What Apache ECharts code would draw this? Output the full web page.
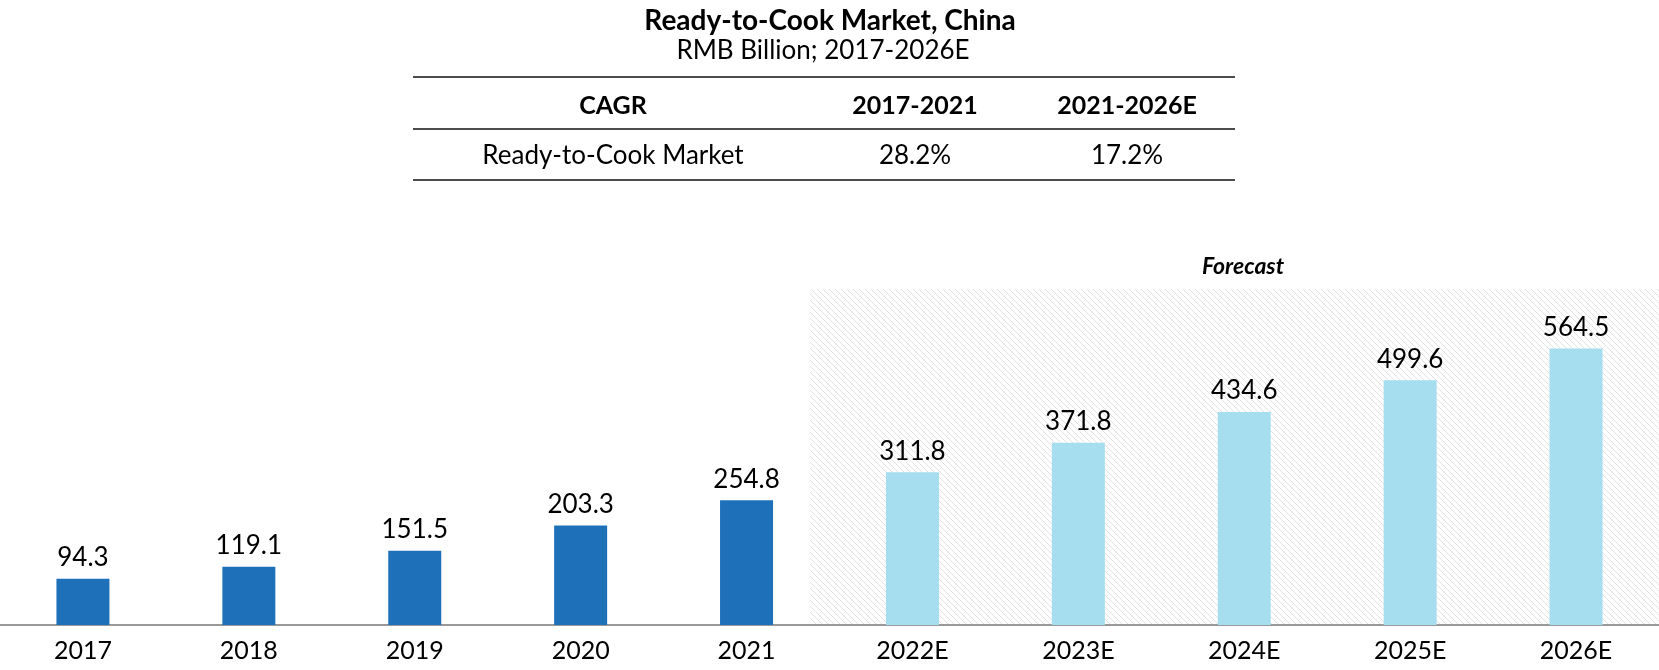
<!DOCTYPE html>
<html>
<head>
<meta charset="utf-8">
<script src="https://cdn.jsdelivr.net/npm/echarts@6/dist/echarts.min.js"></script>
<style>
html,body{margin:0;padding:0;background:#fff;}
#chart{width:1659px;height:670px;}
</style>
</head>
<body>
<div id="chart"></div>
<script>
// ---- data ----
const titleText = 'Ready-to-Cook Market, China';
const subtitleText = 'RMB Billion; 2017-2026E';
const categories = ['2017','2018','2019','2020','2021','2022E','2023E','2024E','2025E','2026E'];
const historicalValues = [94.3, 119.1, 151.5, 203.3, 254.8, null, null, null, null, null];
const forecastValues = [null, null, null, null, null, 311.8, 371.8, 434.6, 499.6, 564.5];
const cagrHeader = ['CAGR', '2017-2021', '2021-2026E'];
const cagrRow = ['Ready-to-Cook Market', '28.2%', '17.2%'];
const forecastLabel = 'Forecast';

// ---- styling ----
const FONT = 'Lato';
const DARK = '#1E70B8';
const LIGHT = '#A6DEF0';

// hatch pattern
function makeHatch() {
  const s = 6;
  const c = document.createElement('canvas');
  c.width = s; c.height = s;
  const g = c.getContext('2d');
  g.fillStyle = '#ffffff';
  g.fillRect(0, 0, s, s);
  g.strokeStyle = '#e2e2e2';
  g.lineWidth = 1;
  g.beginPath();
  g.moveTo(0, 0); g.lineTo(s, s);
  g.moveTo(-s/2, s/2); g.lineTo(s/2, s*1.5);
  g.moveTo(s/2, -s/2); g.lineTo(s*1.5, s/2);
  g.stroke();
  return c;
}

const chart = echarts.init(document.getElementById('chart'), null, {renderer: 'canvas'});

const colX = [613, 915, 1127];
const tableLeft = 413, tableRight = 1235;
const lineYs = [77, 129, 180];

const graphics = [];
// forecast hatched background
graphics.push({
  type: 'rect', z: -10, silent: true,
  shape: {x: 810, y: 289, width: 849, height: 336},
  style: {fill: {image: makeHatch(), repeat: 'repeat'}}
});
graphics.push({
  type: 'text', z: 5,
  x: 1243, y: 267,
  style: {text: forecastLabel, fontFamily: FONT, fontSize: 23, fontWeight: 'bold', fontStyle: 'italic',
          fill: '#000', textAlign: 'center', textVerticalAlign: 'middle'}
});
// table lines
lineYs.forEach(function (y) {
  graphics.push({
    type: 'line', silent: true,
    shape: {x1: tableLeft, y1: y, x2: tableRight, y2: y},
    style: {stroke: '#111', lineWidth: 1.5}
  });
});
// table texts
cagrHeader.forEach(function (t, i) {
  graphics.push({
    type: 'text', x: colX[i], y: 106,
    style: {text: t, fontFamily: FONT, fontSize: 25, fontWeight: 'bold', fill: '#000',
            textAlign: 'center', textVerticalAlign: 'middle'}
  });
});
cagrRow.forEach(function (t, i) {
  graphics.push({
    type: 'text', x: colX[i], y: 156,
    style: {text: t, fontFamily: FONT, fontSize: 26, fill: '#000',
            textAlign: 'center', textVerticalAlign: 'middle'}
  });
});

const labelStyle = {
  show: true, position: 'top', distance: 8,
  fontFamily: FONT, fontSize: 26, color: '#000',
  formatter: function (p) { return p.value == null ? '' : p.value.toFixed(1); }
};

chart.setOption({
  backgroundColor: '#ffffff',
  animation: false,
  title: [
    {text: titleText, left: 825, top: 2, textAlign: 'center',
     textStyle: {fontFamily: FONT, fontSize: 28, fontWeight: 'bold', color: '#000'}},
    {text: subtitleText, left: 818, top: 33, textAlign: 'center',
     textStyle: {fontFamily: FONT, fontSize: 26, fontWeight: 'normal', color: '#000'}}
  ],
  grid: {left: -4, right: -7, top: 282, bottom: 45, containLabel: false},
  xAxis: {
    type: 'category',
    data: categories,
    axisLine: {show: true, lineStyle: {color: '#999999', width: 2}},
    axisTick: {show: false},
    axisLabel: {fontFamily: FONT, fontSize: 25, color: '#000', margin: 13}
  },
  yAxis: {
    type: 'value', min: 0, max: 700, show: false,
    splitLine: {show: false}
  },
  series: [
    {type: 'bar', name: 'Historical', data: historicalValues, barWidth: 53, barGap: '-100%',
     itemStyle: {color: DARK}, label: labelStyle},
    {type: 'bar', name: 'Forecast', data: forecastValues, barWidth: 53, barGap: '-100%',
     itemStyle: {color: LIGHT}, label: labelStyle}
  ],
  graphic: graphics
});
</script>
</body>
</html>
